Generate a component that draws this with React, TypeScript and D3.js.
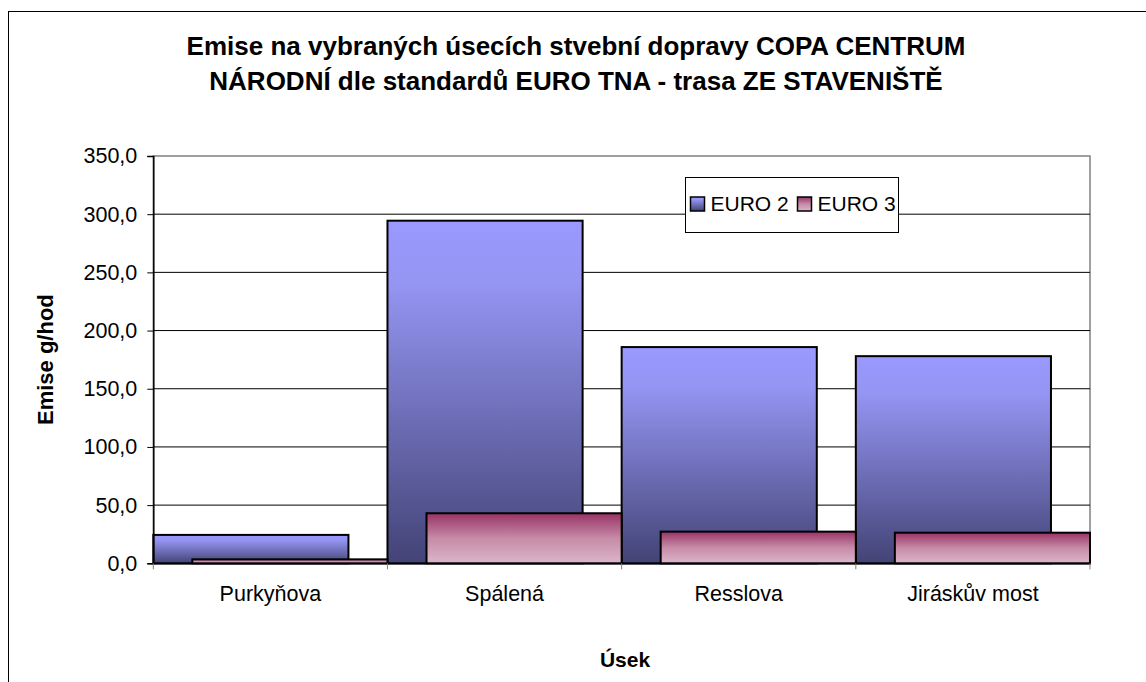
import React, { useEffect, useRef } from "react";
import { select, scaleLinear, scaleBand, axisLeft, axisBottom, format, range } from "d3";

// data
const categories = ["Purkyňova", "Spálená", "Resslova", "Jiráskův most"];
const euro2 = [24.4, 294.4, 185.8, 178.0];
const euro3 = [3.4, 43.0, 27.2, 26.3];
const seriesNames = ["EURO 2", "EURO 3"];
const yTicks = [0, 50, 100, 150, 200, 250, 300, 350];
const titleLines = [
  "Emise na vybraných úsecích stvební dopravy COPA CENTRUM",
  "NÁRODNÍ dle standardů EURO TNA - trasa ZE STAVENIŠTĚ"
];

const W = 1146;
const H = 682;
const FONT = "'Liberation Sans', Arial, sans-serif";

function App() {
  const svgRef = useRef<SVGSVGElement>(null);

  useEffect(() => {
    const svg = select(svgRef.current);
    svg.selectAll("*").remove();

    const plot = { left: 153.3, right: 1090, top: 156, bottom: 563.3 };

    const defs = svg.append("defs");
    const grad = (id: string, stops: [number, string][]) => {
      const g = defs
        .append("linearGradient")
        .attr("id", id)
        .attr("x1", 0)
        .attr("y1", 0)
        .attr("x2", 0)
        .attr("y2", 1);
      stops.forEach(([o, c]) =>
        g.append("stop").attr("offset", o).attr("stop-color", c)
      );
    };
    grad("g-euro2", [[0, "#9999ff"], [0.18, "#9595f3"], [1, "#434376"]]);
    grad("g-euro3", [[0, "#993366"], [0.5, "#c68ba7"], [1, "#dcb6ca"]]);
    const fills = ["url(#g-euro2)", "url(#g-euro3)"];

    // outer chart frame
    svg
      .append("rect")
      .attr("x", 8.5)
      .attr("y", 11.5)
      .attr("width", 1160)
      .attr("height", 700)
      .attr("fill", "#fff")
      .attr("stroke", "#000")
      .attr("stroke-width", 1);

    // title
    svg
      .append("g")
      .selectAll("text")
      .data(titleLines)
      .join("text")
      .attr("x", 576)
      .attr("y", (d, i) => 55 + i * 35)
      .attr("text-anchor", "middle")
      .attr("font-family", FONT)
      .attr("font-weight", "bold")
      .attr("font-size", 26)
      .text(d => d);

    const xScale = scaleBand()
      .domain(categories)
      .range([plot.left, plot.right])
      .padding(0);

    const yScale = scaleLinear()
      .domain([0, 350])
      .range([plot.bottom, plot.top]);

    // bar width: 80% overlap, no gap
    const barW = xScale.bandwidth() / 1.2;
    const offset = barW * 0.2;

    // plot area border (grey)
    svg
      .append("rect")
      .attr("x", plot.left)
      .attr("y", plot.top)
      .attr("width", plot.right - plot.left)
      .attr("height", plot.bottom - plot.top)
      .attr("fill", "#fff")
      .attr("stroke", "#808080")
      .attr("stroke-width", 1.5);

    // gridlines
    svg
      .append("g")
      .selectAll("line")
      .data(yTicks.filter(t => t > 0 && t < 350))
      .join("line")
      .attr("x1", plot.left)
      .attr("x2", plot.right)
      .attr("y1", d => yScale(d))
      .attr("y2", d => yScale(d))
      .attr("stroke", "#000")
      .attr("stroke-width", 1);

    // bars
    const series = [euro2, euro3];
    series.forEach((vals, s) => {
      svg
        .append("g")
        .selectAll("rect")
        .data(vals)
        .join("rect")
        .attr("x", (d, i) => (xScale(categories[i]) as number) + s * offset)
        .attr("y", d => yScale(d))
        .attr("width", barW)
        .attr("height", d => yScale(0) - yScale(d))
        .attr("fill", fills[s])
        .attr("stroke", "#000")
        .attr("stroke-width", 2);
    });

    // y axis
    const yAxis = axisLeft(yScale)
      .tickValues(yTicks)
      .tickSize(6)
      .tickPadding(10)
      .tickFormat(d => format(".1f")(d as number).replace(".", ","));
    const yg = svg
      .append("g")
      .attr("transform", `translate(${plot.left},0)`)
      .call(yAxis);
    yg.select(".domain").attr("stroke", "#000").attr("stroke-width", 1.5);
    yg.selectAll(".tick line").attr("stroke", "#000");
    yg.selectAll(".tick text")
      .attr("font-family", FONT)
      .attr("font-size", 21.5)
      .attr("fill", "#000");

    // x axis: ticks at category boundaries
    const xAxis = axisBottom(xScale).tickSize(0).tickPadding(22);
    const xg = svg
      .append("g")
      .attr("transform", `translate(0,${plot.bottom})`)
      .call(xAxis);
    xg.select(".domain").attr("stroke", "#000").attr("stroke-width", 1.5);
    xg.selectAll(".tick text")
      .attr("font-family", FONT)
      .attr("font-size", 21.5)
      .attr("fill", "#000");
    xg.append("g")
      .selectAll("line")
      .data(range(categories.length + 1))
      .join("line")
      .attr("x1", i => plot.left + i * xScale.step())
      .attr("x2", i => plot.left + i * xScale.step())
      .attr("y1", 0)
      .attr("y2", 6)
      .attr("stroke", "#808080");

    // axis titles
    svg
      .append("text")
      .attr("transform", `translate(53,${(plot.top + plot.bottom) / 2}) rotate(-90)`)
      .attr("text-anchor", "middle")
      .attr("font-family", FONT)
      .attr("font-weight", "bold")
      .attr("font-size", 22)
      .text("Emise g/hod");

    svg
      .append("text")
      .attr("x", 625)
      .attr("y", 667)
      .attr("text-anchor", "middle")
      .attr("font-family", FONT)
      .attr("font-weight", "bold")
      .attr("font-size", 21)
      .text("Úsek");

    // legend
    const lg = svg.append("g");
    lg.append("rect")
      .attr("x", 685.5)
      .attr("y", 177.5)
      .attr("width", 213)
      .attr("height", 55)
      .attr("fill", "#fff")
      .attr("stroke", "#000")
      .attr("stroke-width", 1);
    const items = lg
      .selectAll("g")
      .data(seriesNames)
      .join("g")
      .attr("transform", (d, i) => `translate(${690 + i * 107},0)`);
    items
      .append("rect")
      .attr("x", 0.5)
      .attr("y", 197)
      .attr("width", 14)
      .attr("height", 14)
      .attr("fill", (d, i) => fills[i])
      .attr("stroke", "#000")
      .attr("stroke-width", 1.5);
    items
      .append("text")
      .attr("x", 20.5)
      .attr("y", 211)
      .attr("font-family", FONT)
      .attr("font-size", 21)
      .text(d => d);
  }, []);

  return (
    <svg
      ref={svgRef}
      width={W}
      height={H}
      style={{ position: "absolute", left: 0, top: 0, background: "#fff" }}
    />
  );
}

export default App;
